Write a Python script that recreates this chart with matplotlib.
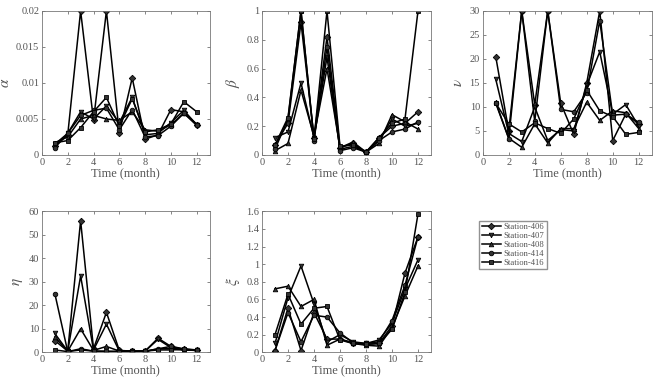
import matplotlib
matplotlib.use('Agg')
import matplotlib.pyplot as plt

plt.rcParams['font.family'] = ['Liberation Serif', 'DejaVu Serif']
plt.rcParams['mathtext.fontset'] = 'stix'

months = [1, 2, 3, 4, 5, 6, 7, 8, 9, 10, 11, 12]
stations = ['Station-406', 'Station-407', 'Station-408', 'Station-414', 'Station-416']

# alpha
alpha406 = [0.0012, 0.0028, 0.02, 0.0048, 0.02, 0.003, 0.0107, 0.0022, 0.0028, 0.0063, 0.006, 0.0042]
alpha407 = [0.0015, 0.003, 0.006, 0.005, 0.0068, 0.0045, 0.008, 0.0028, 0.003, 0.0045, 0.0062, 0.0042]
alpha408 = [0.0017, 0.0025, 0.005, 0.0055, 0.005, 0.0048, 0.006, 0.0035, 0.0033, 0.0042, 0.0058, 0.0043]
alpha414 = [0.001, 0.003, 0.0055, 0.0062, 0.0065, 0.0035, 0.0063, 0.0025, 0.0027, 0.004, 0.0058, 0.0041]
alpha416 = [0.0017, 0.002, 0.0038, 0.006, 0.008, 0.004, 0.0078, 0.0032, 0.0035, 0.0043, 0.0074, 0.006]

# beta
beta406 = [0.07, 0.22, 0.92, 0.12, 0.82, 0.05, 0.08, 0.02, 0.12, 0.2, 0.22, 0.3]
beta407 = [0.12, 0.16, 0.5, 0.12, 0.68, 0.04, 0.06, 0.02, 0.1, 0.25, 0.2, 0.22]
beta408 = [0.03, 0.08, 0.45, 0.13, 0.6, 0.05, 0.09, 0.02, 0.08, 0.28, 0.23, 0.18]
beta414 = [0.04, 0.25, 1.0, 0.1, 0.75, 0.03, 0.05, 0.02, 0.1, 0.16, 0.18, 0.23]
beta416 = [0.07, 0.26, 1.0, 0.11, 1.0, 0.06, 0.07, 0.02, 0.12, 0.22, 0.25, 1.0]

# nu
nu406 = [20.5, 5, 30, 10.5, 30, 10.8, 4.3, 15, 30, 3, 8.5, 6.5]
nu407 = [15.8, 4.5, 2.8, 10, 3, 5.3, 5, 14.5, 21.5, 8.5, 10.5, 6]
nu408 = [11, 3.5, 1.6, 6.5, 2.5, 5.5, 5.5, 11, 7.2, 9.2, 8.8, 5.5]
nu414 = [10.8, 3.4, 30, 7, 30, 9.5, 9, 13, 28, 8.3, 8.5, 6.8]
nu416 = [10.8, 6.5, 4.8, 6.7, 5.5, 4.5, 7.5, 13.5, 9.2, 8, 4.3, 4.7]

# eta
eta406 = [5, 0.5, 56, 1.5, 17, 0.8, 0.5, 0.5, 6, 2.5, 1.5, 1]
eta407 = [8, 0.5, 32.5, 1, 12, 0.5, 0.5, 0.5, 5.5, 2, 1, 0.8]
eta408 = [6.5, 0.5, 10, 0.8, 2.5, 0.5, 0.4, 0.4, 1.5, 1.5, 1, 0.8]
eta414 = [25, 0.3, 1.5, 0.5, 0.3, 0.4, 0.4, 0.4, 1.5, 2.5, 1.2, 1]
eta416 = [1, 0.3, 1, 0.5, 0.5, 0.3, 0.3, 0.5, 1, 1, 1.2, 1]

# xi
xi406 = [0.02, 0.5, 0.02, 0.45, 0.15, 0.15, 0.11, 0.09, 0.1, 0.3, 0.9, 1.31]
xi407 = [0.1, 0.62, 0.98, 0.55, 0.12, 0.2, 0.12, 0.1, 0.14, 0.33, 0.72, 1.05]
xi408 = [0.72, 0.75, 0.52, 0.6, 0.08, 0.15, 0.1, 0.08, 0.07, 0.28, 0.64, 0.98]
xi414 = [0.02, 0.45, 0.12, 0.42, 0.4, 0.22, 0.11, 0.1, 0.12, 0.36, 0.76, 1.31]
xi416 = [0.2, 0.66, 0.32, 0.5, 0.52, 0.14, 0.1, 0.09, 0.1, 0.26, 0.68, 1.57]

markers = ['D', 'v', '^', 'o', 's']
gray = '#555555'

panels = [
    ([alpha406, alpha407, alpha408, alpha414, alpha416], r'$\alpha$', 0.02, [0, 0.005, 0.01, 0.015, 0.02], ['0', '0.005', '0.01', '0.015', '0.02']),
    ([beta406, beta407, beta408, beta414, beta416], r'$\beta$', 1, [0, 0.2, 0.4, 0.6, 0.8, 1], ['0', '0.2', '0.4', '0.6', '0.8', '1']),
    ([nu406, nu407, nu408, nu414, nu416], r'$\nu$', 30, [0, 5, 10, 15, 20, 25, 30], None),
    ([eta406, eta407, eta408, eta414, eta416], r'$\eta$', 60, [0, 10, 20, 30, 40, 50, 60], None),
    ([xi406, xi407, xi408, xi414, xi416], r'$\xi$', 1.6, [0, 0.2, 0.4, 0.6, 0.8, 1, 1.2, 1.4, 1.6], ['0', '0.2', '0.4', '0.6', '0.8', '1', '1.2', '1.4', '1.6']),
]

rects = [
    [0.064, 0.590, 0.256, 0.381],
    [0.400, 0.590, 0.258, 0.381],
    [0.737, 0.590, 0.258, 0.381],
    [0.064, 0.068, 0.256, 0.373],
    [0.400, 0.068, 0.258, 0.373],
]

fig = plt.figure(figsize=(6.55, 3.78), dpi=100)
handles = []
for k in range(5):
    series, lab, ymax, yt, ytl = panels[k]
    ax = fig.add_axes(rects[k])
    for i in range(5):
        h, = ax.plot(months, series[i], color='black', lw=1.1, marker=markers[i],
                     markersize=3.3, markerfacecolor='#333333', markeredgecolor='black',
                     markeredgewidth=0.6)
        if k == 0:
            handles.append(h)
    ax.set_xlim(0, 13)
    ax.set_ylim(0, ymax)
    ax.set_xticks([0, 2, 4, 6, 8, 10, 12])
    ax.set_yticks(yt)
    if ytl is not None:
        ax.set_yticklabels(ytl)
    ax.tick_params(direction='in', top=True, right=True, length=2.5, width=0.5,
                   labelsize=7.5, labelcolor=gray, color=gray, pad=2)
    for sp in ax.spines.values():
        sp.set_color('#777777')
        sp.set_linewidth(0.6)
    ax.set_xlabel('Time (month)', fontsize=9, color=gray, labelpad=0.5)
    ax.set_ylabel(lab, fontsize=11, color=gray, labelpad=3)

fig.legend(handles, stations, loc='upper left', bbox_to_anchor=(0.725, 0.428),
           fontsize=6.2, frameon=True, fancybox=False, edgecolor='#777777',
           handlelength=2.2, handletextpad=0.3, borderpad=0.3, labelspacing=0.1,
           labelcolor=gray)

plt.savefig('out.png', dpi=100)
